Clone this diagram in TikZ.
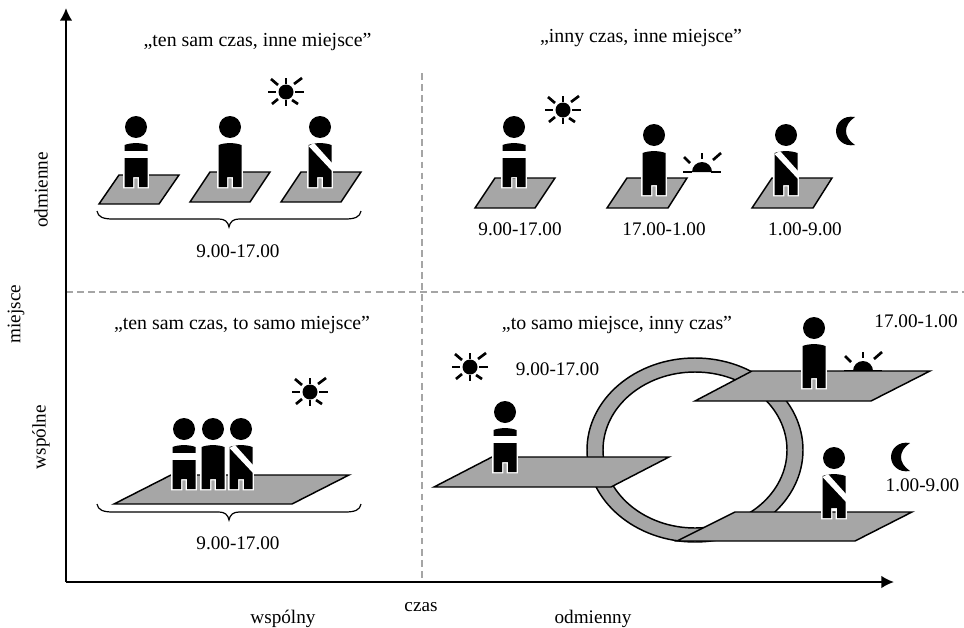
\documentclass[tikz,border=0pt]{standalone}
\usepackage{fontspec}
\usetikzlibrary{arrows.meta}
\setmainfont{Liberation Serif}
\definecolor{platgray}{RGB}{166,166,166}
\definecolor{dashgray}{RGB}{165,165,165}
\tikzset{
  plat/.style={draw=black, fill=platgray, line width=1.1pt, line join=miter},
  ray/.style={draw=black, line width=2pt},
  divider/.style={dashgray, dash pattern=on 5pt off 3.3pt, line width=0.9pt},
  txt/.style={font=\fontsize{14.4}{16}\selectfont, inner sep=0pt},
  title/.style={font=\fontsize{14.9}{16}\selectfont, inner sep=0pt},
  person/.pic={
    \fill[black] (0,0) circle (11);
    \fill[black, preaction={draw=white, line width=2pt}] (-11.5,18) .. controls (-5,15.5) and (5,15.5) .. (11.5,18)
      -- (11.5,60) -- (3,60) -- (3,50) -- (-3,50) -- (-3,60) -- (-11.5,60) -- cycle;
  },
  personstripe/.pic={
    \pic {person};
    \fill[white] (-12,24) rectangle (12,31);
  },
  personsash/.pic={
    \pic {person};
    \fill[white] (-11.5,19) -- (-6,16) -- (12,36) -- (12,44) -- cycle;
  },
  sunrays/.pic={
    \draw[ray] (-18,0) -- (-10,0);
    \draw[ray] (9,0) -- (18,0);
    \draw[ray] (0,-14) -- (0,-8);
    \draw[ray] (8,-8) -- (16,-14);
    \draw[ray] (-15,-13) -- (-8,-7);
    \draw[ray] (-14,12) -- (-8,7);
    \draw[ray] (0,8) -- (0,14);
    \draw[ray] (6,8) -- (12,12);
    \fill[black] (0,0) circle (7.5);
  },
  sunhalf/.pic={
    \draw[ray] (-19,0) -- (-10,0);
    \draw[ray] (9,0) -- (19,0);
    \draw[ray] (0,-19) -- (0,-13);
    \draw[ray] (-18,-15) -- (-12,-9);
    \draw[ray] (19,-19) -- (11,-12);
    \fill[black] (-10,0) arc[start angle=180, end angle=360, x radius=10, y radius=10] -- cycle;
  },
  moon/.pic={
    \fill[black] (0,-14) .. controls (-12,-16) and (-19,-8) .. (-19,0)
      .. controls (-19,8) and (-12,16) .. (0,14)
      .. controls (-6,10) and (-9,5) .. (-9,0)
      .. controls (-9,-5) and (-6,-10) .. (0,-14) -- cycle;
  },
  curly/.pic={
    \draw[black, line width=0.9pt] (-132,0) .. controls (-131,6) and (-126,8) .. (-116,8) -- (-10,8)
      .. controls (-4,8) and (-1,11) .. (0,16) .. controls (1,11) and (4,8) .. (10,8) -- (116,8)
      .. controls (126,8) and (131,6) .. (132,0);
  },
}
\begin{document}
\begin{tikzpicture}[>={Latex[length=9.5pt,width=9.5pt]}, x=0.75pt, y=-0.75pt]
    \useasboundingbox (0,0) rectangle (964,628);

    % 1. Linie podziału i osie
    \draw[divider] (66,292) -- (964,292);
    \draw[divider] (422,73) -- (422,582);
    \coordinate (start) at (66,582);
    \coordinate (koniecx) at (894,582);
    \coordinate (koniecy) at (66,8);
    \draw[->, black, line width=1.5pt] (start) -- (koniecx);
    \draw[->, black, line width=1.5pt] (start) -- (koniecy);

    % 2. Opisy osi
    \node[txt] (czas) at (421,607) {czas};
    \node[txt] (wspolny) at (283,619) {wspólny};
    \node[txt] (odmienny) at (593,619) {odmienny};
    \node[txt, rotate=90] (miejsce) at (16,314) {miejsce};
    \node[txt, rotate=90] (wspolne) at (41,437) {wspólne};
    \node[txt, rotate=90] (odmienne) at (41,190) {odmienne};

    % 3. Lewa góra
    \node[title] (tytul1) at (257.5,42) {„ten sam czas, inne miejsce”};
    \pic at (286,92) {sunrays};
    \draw[plat] (99,204) -- (159,204) -- (179,175) -- (119,175) -- cycle;
    \draw[plat] (190,202) -- (250,202) -- (270,172) -- (210,172) -- cycle;
    \draw[plat] (281,202) -- (341,202) -- (361,172) -- (301,172) -- cycle;
    \pic at (136,127) {personstripe};
    \pic at (230,127) {person};
    \pic at (320,127) {personsash};
    \pic at (229,211) {curly};
    \node[txt] (czas1) at (238,251) {9.00-17.00};

    % 4. Prawa góra
    \node[title] (tytul2) at (641,38) {„inny czas, inne miejsce”};
    \pic at (563,110) {sunrays};
    \pic at (702,172) {sunhalf};
    \pic at (855,131) {moon};
    \draw[plat] (475,208) -- (535,208) -- (555,178) -- (495,178) -- cycle;
    \draw[plat] (607,208) -- (668,208) -- (687,178) -- (627,178) -- cycle;
    \draw[plat] (752,208) -- (813,208) -- (832,178) -- (772,178) -- cycle;
    \pic at (514,127) {personstripe};
    \pic at (654,135) {person};
    \pic at (786,135) {personsash};
    \node[txt] (czas2) at (520,229) {9.00-17.00};
    \node[txt] (czas3) at (664,229) {17.00-1.00};
    \node[txt] (czas4) at (805,229) {1.00-9.00};

    % 5. Lewy dół
    \node[title] (tytul3) at (242,325) {„ten sam czas, to samo miejsce”};
    \pic at (310,392) {sunrays};
    \draw[plat] (114,504) -- (292,504) -- (349,475) -- (171,475) -- cycle;
    \pic at (184,429) {personstripe};
    \pic at (213,429) {person};
    \pic at (241,429) {personsash};
    \pic at (229,504) {curly};
    \node[txt] (czas5) at (238,543) {9.00-17.00};

    % 6. Prawy dół
    \node[title] (tytul4) at (617,325) {„to samo miejsce, inny czas”};
    \node[txt] (czas6) at (557.5,369) {9.00-17.00};
    \node[txt] (czas7) at (916,321) {17.00-1.00};
    \node[txt] (czas8) at (922.5,485) {1.00-9.00};
    \pic at (470,367) {sunrays};
    \pic at (910,457) {moon};
    \pic at (863,371) {sunhalf};
    \draw[plat, even odd rule] (695,450) ellipse [x radius=108, y radius=92]
        (695,450) ellipse [x radius=92, y radius=78];
    \draw[plat] (434,487) -- (611,487) -- (669,457) -- (492,457) -- cycle;
    \draw[plat] (695,401) -- (871,401) -- (930,371) -- (752,371) -- cycle;
    \draw[plat] (677,541) -- (855,541) -- (912,512) -- (735,512) -- cycle;
    \pic at (505,412) {personstripe};
    \pic at (814,328) {person};
    \pic at (834,458) {personsash};
\end{tikzpicture}
\end{document}
